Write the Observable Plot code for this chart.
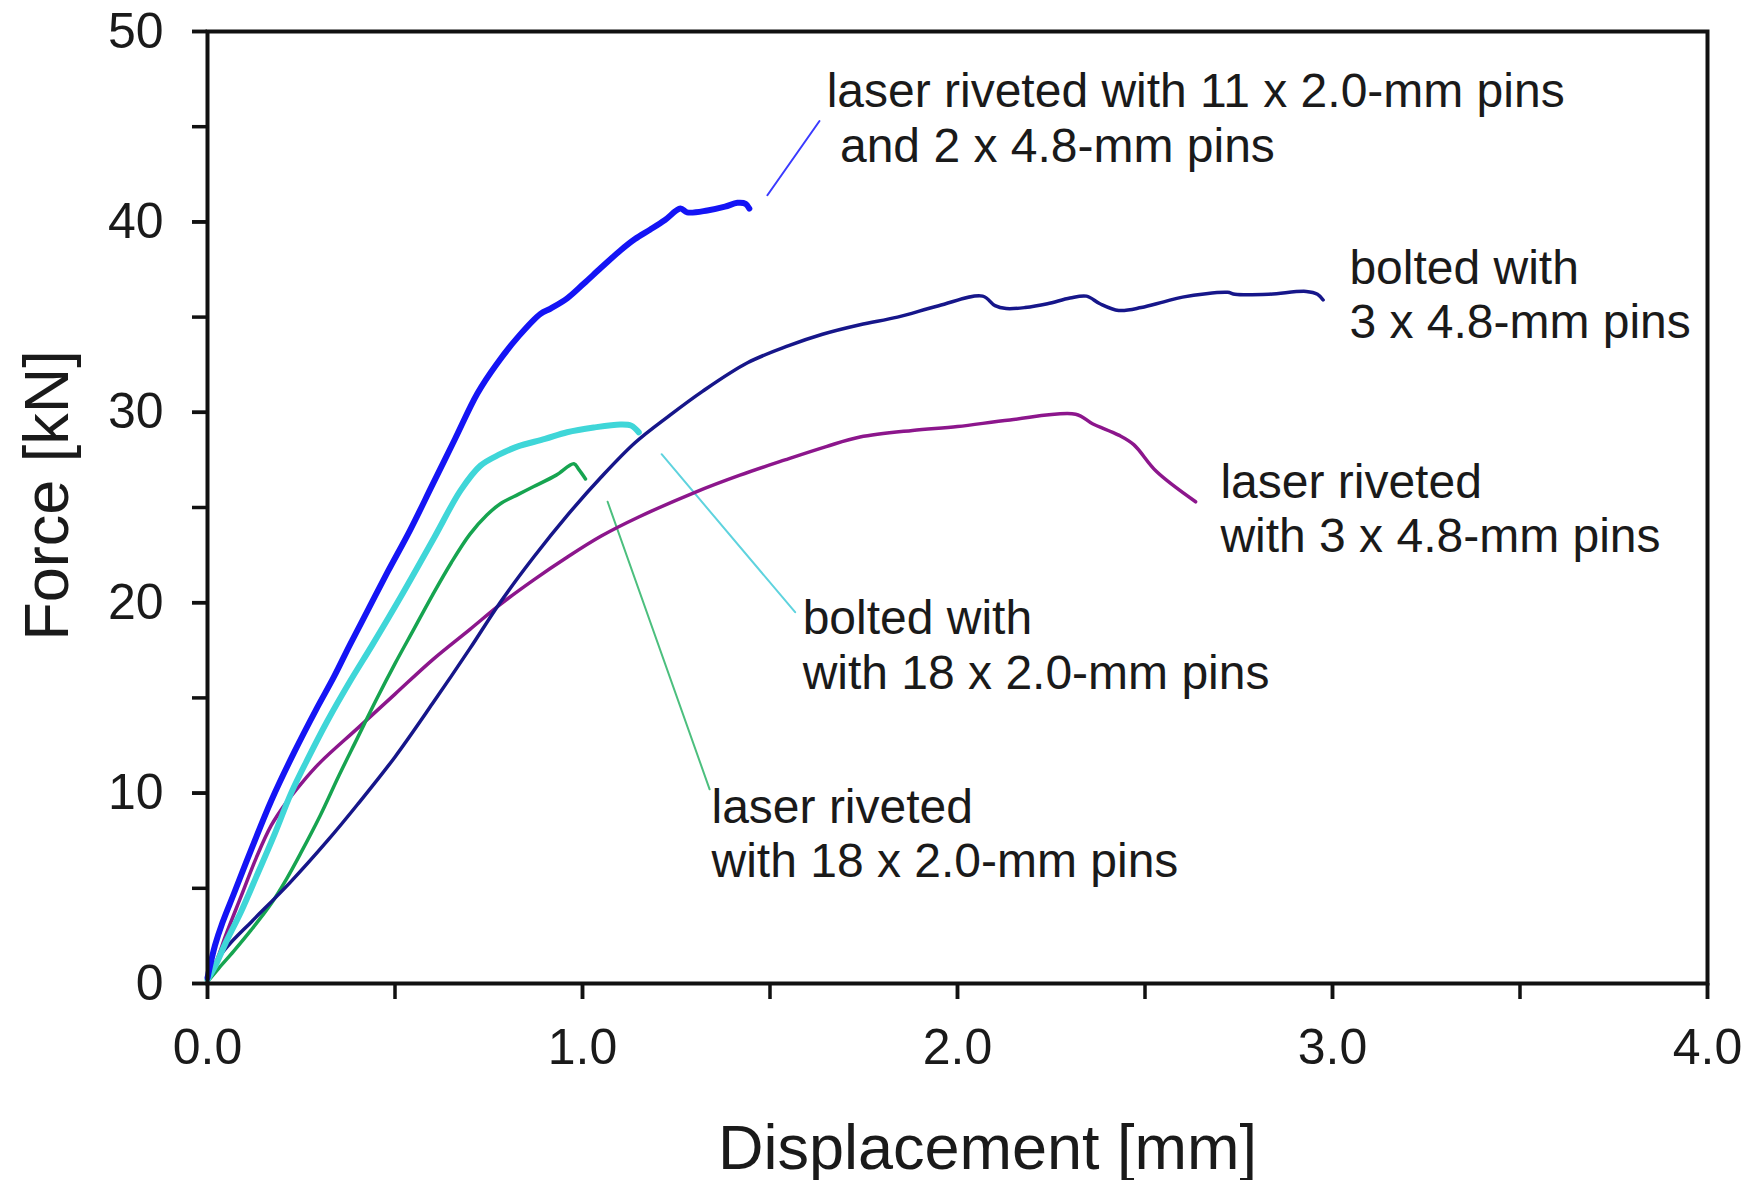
<!DOCTYPE html>
<html>
<head>
<meta charset="utf-8">
<script src="https://cdn.jsdelivr.net/npm/d3@7"></script>
<script src="https://cdn.jsdelivr.net/npm/@observablehq/plot@0.6"></script>
<style>
  html, body { margin: 0; padding: 0; background: #fff; }
  #chart { width: 1763px; height: 1180px; }
</style>
</head>
<body>
<div id="chart"></div>
<script>
// ---- Data (displacement [mm], force [kN]) ----
const laser11x20and2x48 = [
  [0,0.3],[0.01,1.2],[0.02,2.0],[0.04,3.2],[0.07,4.7],[0.12,7.2],[0.17,9.6],[0.23,12.1],
  [0.29,14.4],[0.337,16.1],[0.38,17.8],[0.43,19.7],[0.48,21.6],[0.54,23.8],[0.6,26.2],[0.66,28.6],
  [0.72,31.0],[0.77,32.5],[0.83,34.0],[0.888,35.17],[0.915,35.45],[0.96,36.0],[1.003,36.75],
  [1.05,37.6],[1.101,38.5],[1.14,39.1],[1.181,39.6],[1.22,40.1],[1.261,40.7],[1.279,40.5],
  [1.333,40.6],[1.38,40.8],[1.413,41.0],[1.435,40.95],[1.445,40.7]
];
const bolted3x48 = [
  [0,0.2],[0.02,1.0],[0.035,1.5],[0.06,2.1],[0.12,3.3],[0.22,5.3],[0.32,7.5],[0.40,9.4],
  [0.50,11.9],[0.60,14.7],[0.70,17.6],[0.78,20.0],[0.87,22.4],[0.96,24.6],[1.05,26.6],
  [1.14,28.4],[1.23,29.8],[1.32,31.1],[1.44,32.6],[1.55,33.5],[1.64,34.1],[1.74,34.6],
  [1.84,35.0],[1.95,35.6],[2.067,36.1],[2.10,35.6],[2.13,35.45],[2.18,35.5],[2.24,35.7],
  [2.30,36.0],[2.344,36.1],[2.38,35.7],[2.43,35.35],[2.49,35.5],[2.55,35.8],[2.60,36.05],
  [2.72,36.3],[2.74,36.2],[2.83,36.2],[2.93,36.35],[2.96,36.2],[2.975,35.9]
];
const laser3x48 = [
  [0,0.3],[0.02,1.0],[0.05,2.6],[0.09,4.6],[0.13,6.6],[0.17,8.3],[0.21,9.5],[0.25,10.5],
  [0.3,11.6],[0.4,13.4],[0.5,15.2],[0.6,17.0],[0.7,18.6],[0.78,19.9],[0.87,21.2],[0.96,22.4],
  [1.05,23.5],[1.15,24.5],[1.3,25.8],[1.42,26.7],[1.54,27.5],[1.65,28.2],[1.74,28.7],
  [1.88,29.05],[2.0,29.25],[2.14,29.6],[2.315,29.9],[2.36,29.4],[2.43,28.8],[2.47,28.3],
  [2.53,26.9],[2.635,25.3]
];
const bolted18x20 = [
  [0,0.2],[0.02,0.9],[0.05,2.2],[0.09,3.8],[0.13,5.6],[0.18,7.9],[0.223,10.0],[0.27,11.9],
  [0.32,13.8],[0.381,15.9],[0.44,17.8],[0.515,20.3],[0.604,23.4],[0.675,25.9],[0.728,27.2],
  [0.78,27.8],[0.826,28.2],[0.9,28.6],[0.959,28.95],[1.03,29.2],[1.101,29.36],[1.13,29.3],
  [1.15,28.95]
];
const laser18x20 = [
  [0,0.1],[0.03,0.8],[0.07,1.7],[0.116,2.8],[0.17,4.2],[0.211,5.5],[0.25,6.9],[0.3,8.8],
  [0.35,10.9],[0.4,12.9],[0.45,14.9],[0.5,16.8],[0.55,18.6],[0.6,20.4],[0.65,22.1],
  [0.7,23.6],[0.745,24.6],[0.781,25.2],[0.83,25.7],[0.870,26.1],[0.93,26.7],[0.977,27.3],
  [0.99,27.0],[1.008,26.5]
];

// Leader lines (data coordinates)
const leaderLaser11 = [[1.493,41.4],[1.632,45.3]];
const leaderBolted18 = [[1.211,27.8],[1.567,19.5]];
const leaderLaser18 = [[1.067,25.3],[1.339,10.2]];

// Annotation labels and their anchor points (last-line baseline, data coordinates)
const labelTexts = [
  "laser riveted with 11 x 2.0-mm pins\n\u00a0and 2 x 4.8-mm pins",
  "bolted with\n3 x 4.8-mm pins",
  "laser riveted\nwith 3 x 4.8-mm pins",
  "bolted with\nwith 18 x 2.0-mm pins",
  "laser riveted\nwith 18 x 2.0-mm pins"
];
const labelX = [1.651, 3.045, 2.701, 1.587, 1.344];
const labelY = [43.17, 33.88, 22.64, 15.47, 5.57];

const xTicksMajor = [0, 1, 2, 3, 4];
const xTicksMinor = [0, 0.5, 1, 1.5, 2, 2.5, 3, 3.5, 4];
const yTicksMajor = [0, 10, 20, 30, 40, 50];
const yTicksMinor = [0, 5, 10, 15, 20, 25, 30, 35, 40, 45, 50];

const xTitle = "Displacement [mm]";
const yTitle = "Force [kN]";

// ---- Chart ----
const FONT = "'Liberation Sans', Arial, sans-serif";
const ink = "#111";
const line = (data, color, width) => Plot.line(data, {
  x: d => d[0], y: d => d[1], stroke: color, strokeWidth: width,
  curve: "catmull-rom", strokeLinecap: "round", strokeLinejoin: "round"
});

const labels = labelTexts.map((t, i) => ({t, x: labelX[i], y: labelY[i]}));

const chart = Plot.plot({
  width: 1763,
  height: 1180,
  marginLeft: 207,
  marginRight: 56,
  marginTop: 31,
  marginBottom: 197,
  style: {fontFamily: FONT, color: ink, background: "#fff", overflow: "visible"},
  x: {domain: [0, 4]},
  y: {domain: [0, 50]},
  marks: [
    line(leaderLaser11, "#3a3aff", 2),
    line(leaderBolted18, "#5fd3de", 2),
    line(leaderLaser18, "#4cbf7e", 2),
    line(laser3x48, "#8c168c", 3.5),
    line(laser18x20, "#16a450", 3.5),
    line(bolted3x48, "#16168a", 3.5),
    line(bolted18x20, "#3fd6d8", 6),
    line(laser11x20and2x48, "#1414f5", 6),
    Plot.text(labels, {
      x: "x", y: "y", text: "t", textAnchor: "start", lineAnchor: "bottom",
      lineHeight: 1.14, fontSize: 48, fill: "#1a1a1a"
    }),
    Plot.axisX(xTicksMinor, {tickSize: 16, tickFormat: () => "", strokeWidth: 3.5, label: null}),
    Plot.axisX(xTicksMajor, {tickSize: 16, tickPadding: 29, tickFormat: d3.format(".1f"),
      fontSize: 50, strokeWidth: 3.5, label: null, fill: "#1a1a1a"}),
    Plot.axisY(yTicksMinor, {tickSize: 15, tickFormat: () => "", strokeWidth: 3.5, label: null}),
    Plot.axisY(yTicksMajor, {tickSize: 15, tickPadding: 29, tickFormat: d3.format("d"),
      fontSize: 50, strokeWidth: 3.5, label: null, fill: "#1a1a1a"}),
    Plot.frame({stroke: ink, strokeWidth: 4}),
    Plot.text([xTitle], {frameAnchor: "bottom", text: d => d, dx: 30, dy: 185,
      textAnchor: "middle", lineAnchor: "bottom", fontSize: 63, fill: "#1a1a1a"}),
    Plot.text([yTitle], {frameAnchor: "left", text: d => d, rotate: -90, dx: -140, dy: -12,
      textAnchor: "middle", lineAnchor: "bottom", fontSize: 63, fill: "#1a1a1a"})
  ]
});
document.getElementById("chart").appendChild(chart);
</script>
</body>
</html>
